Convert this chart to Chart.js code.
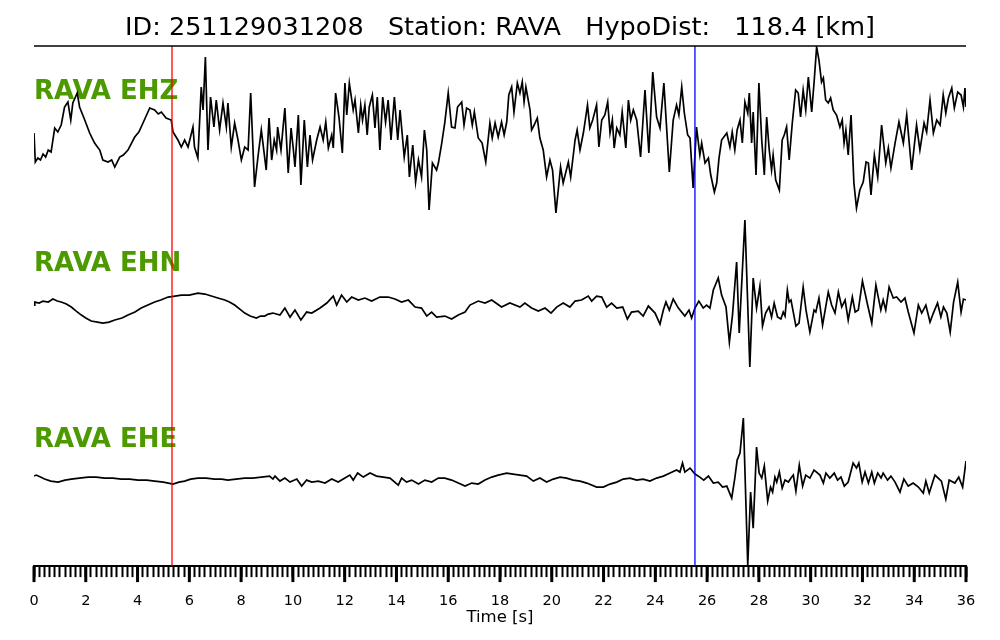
<!DOCTYPE html>
<html>
<head>
<meta charset="utf-8">
<script src="https://cdn.jsdelivr.net/npm/chart.js@4.4.1/dist/chart.umd.min.js"></script>
<style>
  body { margin: 0; background: #fff; }
  canvas { display: block; }
</style>
</head>
<body>
<canvas id="seis" width="1000" height="640"></canvas>
<script>
// event info
const eventId = "251129031208";
const stationName = "RAVA";
const hypoDist = 118.4;
const channels = ["RAVA EHZ", "RAVA EHN", "RAVA EHE"];

// picks (s): P red, S blue
const pickTimes = [5.33, 25.53];
const pickColors = ["#ff0000", "#0000ff"];

// labelled ticks on the time axis
const majorTicks = [0, 2, 4, 6, 8, 10, 12, 14, 16, 18, 20, 22, 24, 26, 28, 30, 32, 34, 36];

// traces: [time s, amplitude]
const ehzTrace = [[0,-3],[0.05,-32],[0.15,-28],[0.25,-30],[0.35,-24],[0.45,-27],[0.55,-20],[0.66,-22],[0.8,2],[0.92,-2],[1.05,5],[1.18,23],[1.31,28],[1.42,10],[1.5,27],[1.67,37],[1.76,23],[1.96,10],[2.15,-3],[2.34,-13],[2.54,-20],[2.66,-30],[2.86,-32],[3.0,-30],[3.12,-37],[3.31,-27],[3.45,-25],[3.63,-20],[3.89,-7],[4.05,-2],[4.21,7],[4.47,22],[4.66,20],[4.8,16],[4.92,18],[5.1,12],[5.3,10],[5.37,-2],[5.56,-10],[5.69,-17],[5.82,-10],[5.95,-17],[6.14,3],[6.2,-17],[6.33,-28],[6.46,43],[6.53,20],[6.62,73],[6.72,-20],[6.82,33],[6.95,3],[7.04,30],[7.17,0],[7.3,27],[7.43,3],[7.49,27],[7.62,-17],[7.75,7],[7.88,-10],[8.01,-30],[8.14,-17],[8.27,-20],[8.37,37],[8.52,-57],[8.65,-27],[8.78,0],[8.97,-40],[9.08,12],[9.18,-30],[9.28,-10],[9.37,-20],[9.41,3],[9.54,-20],[9.69,22],[9.82,-43],[9.93,2],[10.02,-20],[10.08,-37],[10.21,15],[10.31,-55],[10.44,10],[10.56,-37],[10.66,-5],[10.76,-30],[10.92,-10],[11.05,3],[11.17,-10],[11.27,8],[11.37,-18],[11.5,-5],[11.56,-18],[11.65,37],[11.78,13],[11.91,-23],[12.01,47],[12.08,15],[12.18,47],[12.33,20],[12.4,30],[12.53,-3],[12.62,25],[12.69,10],[12.78,25],[12.87,-5],[12.95,23],[13.07,35],[13.17,2],[13.26,33],[13.36,-20],[13.47,33],[13.58,8],[13.68,30],[13.79,-10],[13.92,33],[14.05,-10],[14.14,20],[14.3,-27],[14.42,-5],[14.5,-47],[14.63,-15],[14.74,-52],[14.85,-30],[14.97,-47],[15.08,0],[15.17,-20],[15.26,-80],[15.39,-33],[15.55,-40],[15.62,-33],[15.75,-13],[15.87,8],[16.0,37],[16.13,3],[16.26,2],[16.36,23],[16.52,28],[16.61,5],[16.71,22],[16.84,20],[16.93,5],[17.01,18],[17.16,-8],[17.31,-13],[17.45,-32],[17.61,7],[17.7,-8],[17.81,7],[17.93,-7],[18.06,8],[18.16,-5],[18.26,8],[18.34,35],[18.45,43],[18.54,18],[18.67,47],[18.77,37],[18.86,48],[18.93,28],[19.0,43],[19.16,20],[19.22,0],[19.32,5],[19.44,12],[19.54,-8],[19.67,-20],[19.8,-47],[19.93,-30],[20.03,-40],[20.16,-83],[20.34,-37],[20.44,-53],[20.64,-32],[20.73,-47],[20.9,-10],[20.98,0],[21.09,-20],[21.22,-3],[21.38,25],[21.47,2],[21.58,10],[21.73,25],[21.82,-17],[21.93,10],[22.05,15],[22.16,28],[22.25,-3],[22.34,10],[22.41,-18],[22.51,2],[22.63,-5],[22.72,18],[22.86,-18],[22.96,30],[23.05,10],[23.15,20],[23.28,10],[23.43,-27],[23.6,40],[23.75,-23],[23.9,58],[24.05,13],[24.18,2],[24.33,47],[24.54,-42],[24.69,10],[24.82,25],[24.91,15],[25.02,43],[25.12,17],[25.25,-5],[25.34,-8],[25.46,-58],[25.59,3],[25.72,-25],[25.79,-13],[25.92,-33],[26.05,-28],[26.14,-45],[26.28,-62],[26.37,-53],[26.46,-28],[26.56,-10],[26.76,-3],[26.88,-17],[26.97,-2],[27.07,-20],[27.16,0],[27.27,10],[27.36,-13],[27.46,28],[27.57,17],[27.63,37],[27.72,-13],[27.78,18],[27.89,-45],[28.0,47],[28.11,-10],[28.21,-45],[28.3,13],[28.4,-20],[28.49,-40],[28.55,-25],[28.65,-50],[28.79,-60],[28.9,-10],[28.98,-5],[29.07,3],[29.17,-30],[29.29,7],[29.42,40],[29.52,37],[29.61,13],[29.71,40],[29.81,20],[29.91,53],[30.04,18],[30.13,47],[30.23,83],[30.32,70],[30.42,48],[30.49,52],[30.58,30],[30.68,27],[30.77,32],[30.87,20],[31.0,15],[31.13,3],[31.22,10],[31.29,-13],[31.36,0],[31.45,-25],[31.56,15],[31.67,-53],[31.77,-78],[31.9,-60],[32.03,-52],[32.14,-32],[32.23,-33],[32.33,-65],[32.46,-25],[32.59,-47],[32.74,5],[32.9,-33],[33.0,-18],[33.1,-38],[33.26,-13],[33.41,8],[33.58,-13],[33.71,15],[33.9,-40],[34.09,5],[34.22,-20],[34.38,7],[34.48,-2],[34.61,30],[34.74,-3],[34.87,10],[35.0,5],[35.12,35],[35.22,17],[35.32,32],[35.45,42],[35.55,22],[35.68,38],[35.81,35],[35.9,23],[35.96,42],[36.0,23]];

const ehnTrace = [[0,-3],[0.03,0],[0.2,-1],[0.35,1],[0.55,0],[0.73,3],[0.9,1],[1.05,0],[1.25,-2],[1.44,-5],[1.63,-9],[1.83,-13],[2.0,-16],[2.21,-19],[2.45,-20],[2.66,-21],[2.9,-20],[3.12,-18],[3.4,-16],[3.63,-13],[3.9,-10],[4.14,-6],[4.4,-3],[4.66,0],[4.9,2],[5.18,5],[5.45,6],[5.69,7],[6.0,7],[6.33,9],[6.6,8],[6.85,6],[7.1,4],[7.37,2],[7.55,0],[7.75,-3],[7.95,-7],[8.14,-11],[8.35,-14],[8.59,-16],[8.75,-14],[8.91,-14],[9.05,-12],[9.23,-11],[9.5,-13],[9.69,-6],[9.89,-15],[10.08,-8],[10.31,-18],[10.53,-10],[10.73,-11],[11.05,-6],[11.31,-1],[11.56,6],[11.69,-3],[11.88,7],[12.08,0],[12.27,5],[12.53,2],[12.78,4],[13.04,1],[13.36,5],[13.68,5],[13.94,3],[14.2,0],[14.46,2],[14.72,-5],[14.97,-6],[15.17,-14],[15.36,-10],[15.55,-15],[15.87,-14],[16.13,-17],[16.39,-13],[16.65,-10],[16.84,-3],[17.16,1],[17.42,-1],[17.68,2],[18.06,-5],[18.38,-1],[18.77,-5],[18.96,-1],[19.22,-6],[19.48,-9],[19.74,-6],[19.97,-11],[20.19,-5],[20.44,-1],[20.7,-5],[20.9,1],[21.15,2],[21.41,6],[21.54,1],[21.73,6],[21.93,5],[22.12,-5],[22.31,-1],[22.51,-6],[22.74,-5],[22.92,-17],[23.08,-10],[23.34,-9],[23.53,-14],[23.73,-4],[23.99,-11],[24.18,-22],[24.31,-8],[24.41,0],[24.54,-8],[24.69,3],[24.89,-6],[25.14,-14],[25.3,-8],[25.4,-16],[25.53,-6],[25.68,1],[25.85,-6],[25.98,-3],[26.11,-6],[26.24,12],[26.43,24],[26.56,7],[26.73,-5],[26.86,-40],[26.98,-13],[27.14,40],[27.24,-31],[27.46,82],[27.65,-65],[27.78,24],[27.91,-6],[28.04,16],[28.14,-24],[28.26,-11],[28.39,-5],[28.49,-15],[28.59,-1],[28.72,-15],[28.85,-17],[28.94,-10],[29.01,-14],[29.1,12],[29.17,0],[29.24,2],[29.43,-24],[29.55,-21],[29.71,15],[29.82,-8],[29.97,-30],[30.13,-8],[30.2,-10],[30.32,4],[30.46,-23],[30.68,10],[30.81,-3],[30.94,-11],[31.07,10],[31.2,-5],[31.33,2],[31.45,-18],[31.61,5],[31.72,-10],[31.84,-8],[32.0,21],[32.2,-3],[32.36,-21],[32.52,17],[32.71,-8],[32.8,2],[32.9,-8],[33.03,15],[33.19,4],[33.32,5],[33.49,0],[33.64,4],[33.77,-10],[33.99,-31],[34.16,-3],[34.29,-11],[34.45,-3],[34.61,-20],[34.74,-11],[34.9,-1],[35.03,-15],[35.13,-5],[35.26,-11],[35.39,-30],[35.52,0],[35.68,20],[35.81,-10],[35.9,3],[36.0,2]];

const eheTrace = [[0,2],[0.09,3],[0.25,1],[0.41,-1],[0.65,-3],[0.93,-4],[1.2,-2],[1.44,-1],[1.75,0],[2.09,1],[2.4,1],[2.73,0],[3.05,0],[3.37,-1],[3.7,-1],[4.02,-2],[4.35,-2],[4.66,-3],[5.0,-4],[5.37,-6],[5.6,-4],[5.82,-3],[6.05,-1],[6.33,0],[6.65,0],[6.98,-1],[7.25,-1],[7.49,-2],[7.8,-1],[8.14,0],[8.45,0],[8.78,1],[9.1,2],[9.23,-1],[9.31,2],[9.5,-3],[9.69,0],[9.89,-4],[10.15,-1],[10.34,-8],[10.53,-2],[10.73,-4],[10.98,-3],[11.24,-5],[11.5,-1],[11.75,-4],[12.01,0],[12.2,3],[12.33,-2],[12.5,5],[12.72,1],[12.98,5],[13.23,2],[13.49,1],[13.75,0],[14.07,-7],[14.2,0],[14.39,-4],[14.59,-2],[14.85,-6],[15.1,-2],[15.36,-4],[15.62,0],[15.87,0],[16.13,-2],[16.39,-5],[16.65,-8],[16.91,-5],[17.16,-6],[17.42,-2],[17.68,1],[17.93,3],[18.26,5],[18.5,4],[18.77,3],[19.03,2],[19.29,-3],[19.54,0],[19.8,-4],[20.06,-1],[20.32,1],[20.57,0],[20.83,-2],[21.09,-3],[21.35,-5],[21.73,-9],[21.99,-9],[22.25,-6],[22.51,-4],[22.76,-1],[23.02,0],[23.28,-2],[23.53,-1],[23.79,-3],[24.05,0],[24.31,2],[24.57,5],[24.82,8],[24.95,6],[25.05,15],[25.14,6],[25.34,10],[25.53,4],[25.72,1],[25.87,-2],[26.05,2],[26.24,-5],[26.43,-4],[26.6,-9],[26.76,-8],[26.95,-20],[27.07,0],[27.16,18],[27.27,25],[27.4,60],[27.57,-87],[27.68,-14],[27.78,-50],[27.91,31],[28.01,5],[28.11,0],[28.21,12],[28.34,-23],[28.45,-9],[28.53,-14],[28.62,1],[28.69,-4],[28.79,6],[28.9,-10],[29.01,-2],[29.14,-4],[29.24,0],[29.33,3],[29.43,-13],[29.56,13],[29.69,-8],[29.81,3],[29.97,0],[30.13,8],[30.36,3],[30.49,-5],[30.59,5],[30.74,0],[30.91,5],[31.04,-2],[31.17,1],[31.3,-8],[31.45,-4],[31.64,15],[31.77,10],[31.86,15],[31.99,-4],[32.1,6],[32.23,-5],[32.36,6],[32.46,-5],[32.59,5],[32.72,0],[32.8,5],[32.97,-2],[33.1,2],[33.26,-4],[33.45,-14],[33.6,-1],[33.77,-8],[33.96,-5],[34.16,-9],[34.35,-15],[34.45,-3],[34.58,-15],[34.8,3],[35.05,-3],[35.22,-21],[35.35,-2],[35.57,-5],[35.72,1],[35.87,-9],[36.0,17]];

const traces = [ehzTrace, ehnTrace, eheTrace];
// vertical placement of each trace on the hidden y scale (0..520)
const traceBase = [436, 264, 88];
const yTop = 520;

const traceSets = traces.map((tr, i) => ({
  label: channels[i],
  data: tr.map(p => ({ x: p[0], y: traceBase[i] + p[1] })),
  borderColor: "#000",
  borderWidth: 1.7,
  pointRadius: 0,
  tension: 0,
  order: 2
}));

const pickSets = pickTimes.map((t, i) => ({
  label: "pick" + i,
  data: [{ x: t, y: 0 }, { x: t, y: yTop }],
  borderColor: pickColors[i],
  borderWidth: 1.3,
  pointRadius: 0,
  order: 1
}));

const isMajor = v => majorTicks.some(m => Math.abs(m - v) < 1e-6);

// channel names, top frame line and long ticks
const seisDecor = {
  id: "seisDecor",
  beforeDatasetsDraw(chart) {
    const { ctx, chartArea, scales } = chart;
    ctx.save();
    ctx.fillStyle = "#4c9900";
    ctx.font = "bold 26px 'DejaVu Sans'";
    ctx.textBaseline = "middle";
    channels.forEach((name, i) => {
      ctx.fillText(name, chartArea.left, scales.y.getPixelForValue(traceBase[i] + 38));
    });
    ctx.restore();
  },
  afterDraw(chart) {
    const { ctx, chartArea, scales } = chart;
    ctx.save();
    ctx.strokeStyle = "#000";
    ctx.lineWidth = 1.5;
    ctx.beginPath();
    ctx.moveTo(chartArea.left, chartArea.top);
    ctx.lineTo(chartArea.right, chartArea.top);
    ctx.stroke();
    ctx.lineWidth = 3;
    majorTicks.forEach(v => {
      const x = scales.x.getPixelForValue(v);
      ctx.beginPath();
      ctx.moveTo(x, chartArea.bottom);
      ctx.lineTo(x, chartArea.bottom + 16);
      ctx.stroke();
    });
    ctx.restore();
  }
};

new Chart(document.getElementById("seis"), {
  type: "line",
  data: { datasets: [...traceSets, ...pickSets] },
  options: {
    responsive: false,
    animation: false,
    devicePixelRatio: 1,
    layout: { padding: { left: 34, right: 34, top: 0, bottom: 14 } },
    plugins: {
      legend: { display: false },
      tooltip: { enabled: false },
      title: {
        display: true,
        text: `ID: ${eventId}   Station: ${stationName}   HypoDist:   ${hypoDist.toFixed(1)} [km]`,
        color: "#000",
        font: { family: "DejaVu Sans", size: 25.5, weight: "normal", lineHeight: 1.2 },
        padding: { top: 13, bottom: 2.4 }
      }
    },
    scales: {
      x: {
        type: "linear",
        min: 0,
        max: 36,
        border: { display: true, color: "#000", width: 2 },
        grid: { display: true, drawOnChartArea: false, tickLength: 11, tickColor: "#000", tickWidth: 2 },
        ticks: {
          stepSize: 0.2,
          autoSkip: false,
          maxRotation: 0,
          padding: 15.5,
          color: "#000",
          font: { family: "DejaVu Sans", size: 14.5 },
          callback: v => (isMajor(v) ? String(Math.round(v)) : "")
        },
        title: {
          display: true,
          text: "Time [s]",
          color: "#000",
          font: { family: "DejaVu Sans", size: 16.5, lineHeight: 1 },
          padding: { top: -16, bottom: 0 }
        }
      },
      y: { type: "linear", min: 0, max: yTop, display: false }
    }
  },
  plugins: [seisDecor]
});
</script>
</body>
</html>
